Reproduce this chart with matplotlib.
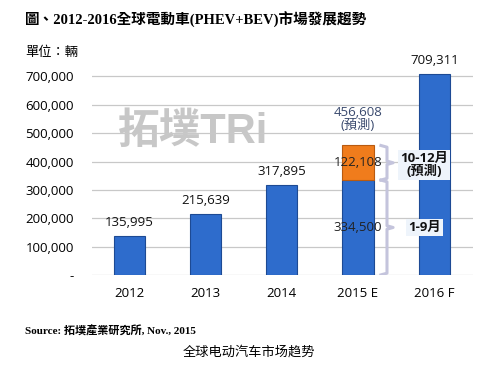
import matplotlib.pyplot as plt

years = ['2012', '2013', '2014', '2015 E', '2016 F']
sales = [135995, 215639, 317895, 334500, 709311]
forecast_q4 = [0, 0, 0, 122108, 0]
yticks = [0, 100000, 200000, 300000, 400000, 500000, 600000, 700000]
ytick_labels = ['-', '100,000', '200,000', '300,000', '400,000', '500,000', '600,000', '700,000']

sans = ['Open Sans', 'Noto Sans CJK TC']
serif = ['Liberation Serif', 'Noto Sans CJK TC']

fig = plt.figure(figsize=(4.97, 3.67), dpi=100)
ax = fig.add_axes([0.185, 0.251, 0.767, 0.556])

x = list(range(len(years)))
ax.bar(x, sales, width=0.41, color='#2e6ccc', edgecolor='#1d4a94', linewidth=0.8, zorder=3)
fx = [i for i in x if forecast_q4[i] > 0]
ax.bar(fx, [forecast_q4[i] for i in fx], width=0.41, bottom=[sales[i] for i in fx],
       color='#f07c1c', edgecolor='#b85a10', linewidth=0.8, zorder=3)

# value labels
for i in [0, 1, 2, 4]:
    ax.text(i, sales[i] + 48000, f'{sales[i]:,}', ha='center', va='center', fontsize=9.5,
            family=sans, color='#111111', clip_on=False)
ax.text(3, sales[3] / 2, f'{sales[3]:,}', ha='center', va='center', fontsize=9.5,
        family=sans, color='#222222', zorder=4)
ax.text(3, sales[3] + forecast_q4[3] / 2, f'{forecast_q4[3]:,}', ha='center', va='center',
        fontsize=9.5, family=sans, color='#222222', zorder=4)
total = sales[3] + forecast_q4[3]
ax.text(3, total + 95000, f'{total:,}\n(預測)', ha='center', va='center', fontsize=9.5,
        family=sans, color='#3a4a6e', linespacing=1.0)

# braces
bc = '#c4c4dc'
def brace(y0, y1):
    xs = 3.30
    xv = 3.38
    mid = (y0 + y1) / 2
    ax.plot([xs, xv, xv, 3.46, xv, xv, xs], [y1, y1 - 6000, mid + 6000, mid, mid - 6000, y0 + 6000, y0],
            color=bc, lw=2.2, zorder=2, solid_joinstyle='round')
brace(0, sales[3])
brace(sales[3], total)

box = dict(boxstyle='square,pad=0.15', facecolor='#eef4fb', edgecolor='none')
ax.text(3.87, sales[3] + forecast_q4[3] / 2 - 8000, '10-12月\n(預測)', ha='center', va='center',
        fontsize=9.5, family=sans, color='#111111', fontweight='bold', linespacing=1.0,
        bbox=box, zorder=4)
ax.text(3.87, sales[3] / 2, '1-9月', ha='center', va='center', fontsize=9.5, family=sans,
        color='#111111', fontweight='bold', bbox=box, zorder=4)

# watermark
ax.text(-0.15, 505000, '拓墣TRi', ha='left', va='center', fontsize=30, fontweight='bold',
        family=['Liberation Sans', 'Noto Sans CJK TC'], color='#b0b0b0', alpha=0.7, zorder=1)

ax.set_xlim(-0.49, 4.51)
ax.set_ylim(0, 720000)
ax.set_yticks(yticks)
ax.set_yticklabels(ytick_labels, family=sans, fontsize=9.5)
ax.set_xticks(x)
ax.set_xticklabels(years, family=sans, fontsize=9.5)
ax.tick_params(length=0, pad=13)
ax.tick_params(axis='x', pad=9)
ax.grid(axis='y', color='#c8c8c8', lw=0.9, zorder=0)
for s in ax.spines.values():
    s.set_visible(False)

fig.text(0.05, 0.945, '圖、2012-2016全球電動車(PHEV+BEV)市場發展趨勢', fontsize=10.5,
         fontweight='bold', family=serif, va='center')
fig.text(0.05, 0.856, '單位：輛', fontsize=9.5, family=sans, va='center')
fig.text(0.05, 0.10, 'Source: 拓墣產業研究所, Nov., 2015', fontsize=8, fontweight='bold',
         family=serif, va='center')
fig.text(0.50, 0.04, '全球电动汽车市场趋势', fontsize=9.5, ha='center', va='center',
         family=['Noto Sans CJK SC'])

fig.savefig('out.png', dpi=100)
